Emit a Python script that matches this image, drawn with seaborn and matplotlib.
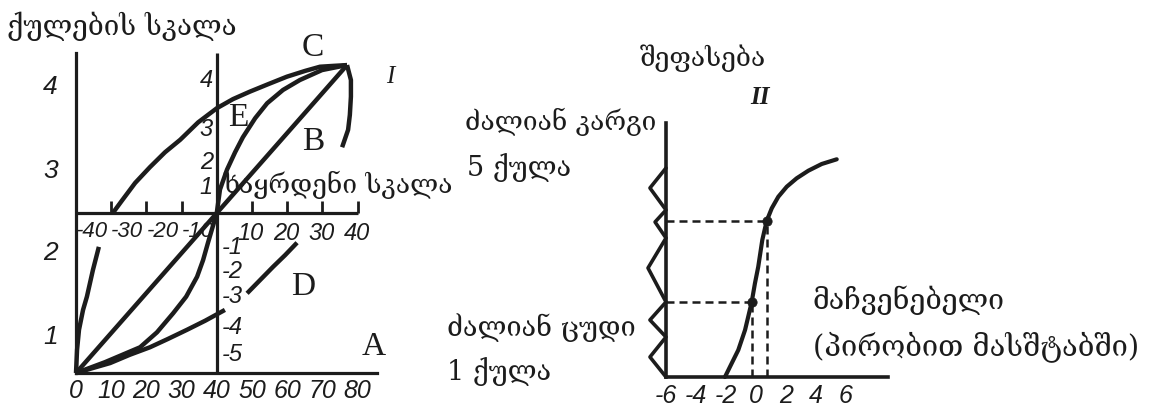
import matplotlib
matplotlib.use("Agg")
import matplotlib.pyplot as plt
import seaborn as sns
import pandas as pd

# ---------------- panel I : bottom scale (0-80) vs ball scale ----------------
bottom_ticks = [0, 10, 20, 30, 40, 50, 60, 70, 80]
bottom_labels = ["0", "10", "20", "30", "40", "50", "60", "70", "80"]
ball_ticks = [1, 1.5, 2, 3, 3.5, 4]
ball_labels = ["1", "", "2", "3", "", "4"]
ref_origin_x = 40          # reference scale zero on the bottom scale
ref_origin_ball = 2.46     # reference scale zero on the ball scale
ref_ticks = [-30, -20, -10, 10, 20, 30, 40]
ref_neg_vals = [-40, -30, -20, -10]
ref_neg_labels = ["-40", "-30", "-20", "-10"]
ref_pos_vals = [10, 20, 30, 40]
ref_pos_labels = ["10", "20", "30", "40"]
inner_up_labels = ["1", "2", "3", "4"]
inner_up_ball = [2.76, 3.07, 3.46, 4.06]
inner_down_labels = ["-1", "-2", "-3", "-4", "-5"]
inner_down_ball = [2.04, 1.75, 1.45, 1.08, 0.75]
axis_bottom_ball = 0.53
axis_top_ball = 4.39
axis_right_x = 85.5
ref_axis_right = 80

# curve E-C (upper arc)
arc_x = [10.5, 13.1, 16.8, 21.0, 25.3, 29.6, 34.7, 40.0, 44.6, 49.4, 54.6, 59.9, 65.1, 69.3, 73.0, 77.0]
arc_y = [2.46, 2.61, 2.82, 3.01, 3.19, 3.34, 3.55, 3.72, 3.83, 3.92, 4.01, 4.10, 4.17, 4.22, 4.23, 4.24]
# S-shaped curve through the reference origin
s_x = [0, 8.2, 18.2, 23.0, 27.6, 31.3, 34.4, 36.1, 37.5, 40.0, 40.9, 42.9, 45.2, 47.4, 50.9, 54.3, 58.8, 63.6, 69.9, 77.0]
s_y = [0.53, 0.66, 0.84, 1.02, 1.25, 1.45, 1.69, 1.89, 2.10, 2.46, 2.74, 2.98, 3.19, 3.37, 3.60, 3.78, 3.94, 4.06, 4.18, 4.24]
# straight line B
line_x = [0, 77.0]
line_y = [0.53, 4.24]
# lower flat curve
low_x = [0, 4.8, 9.7, 15.3, 21.0, 26.1, 31.5, 36.7, 42.3]
low_y = [0.53, 0.59, 0.65, 0.75, 0.84, 0.94, 1.05, 1.16, 1.29]
# steep curve near the left axis
steep_x = [0, 0.3, 0.85, 2.0, 3.1, 4.8, 6.5]
steep_y = [0.53, 0.81, 1.05, 1.29, 1.45, 1.77, 2.05]
# curve D
d_x = [48.6, 52.3, 56.0, 59.4, 62.8]
d_y = [1.49, 1.65, 1.81, 1.95, 2.10]
# curve falling from C
drop_x = [77.0, 78.1, 78.1, 77.8, 77.3, 75.6]
drop_y = [4.24, 4.06, 3.86, 3.64, 3.46, 3.25]

# ---------------- panel II : indicator vs grade ----------------
ind_ticks = [-6, -4, -2, 0, 2, 4, 6]
ind_labels = ["-6", "-4", "-2", "0", "2", "4", "6"]
grade_ticks = [4.0, 7.5, 13.9, 16.7, 20.9]
zig_x = [-6, -7.07, -6, -6.73, -6, -7.2, -6, -7.07, -6, -7.07, -6]
zig_y = [20.9, 18.9, 16.7, 15.5, 13.9, 10.9, 7.5, 5.7, 4.0, 2.0, 0]
sig_x = [-2.07, -1.62, -1.18, -0.73, -0.29, -0.07, 0.15, 0.42, 0.71, 1.05, 1.49, 2.05, 2.71, 3.49, 4.38, 5.38]
sig_y = [0.0, 1.37, 2.7, 4.7, 7.47, 9.37, 11.03, 13.7, 15.6, 16.87, 18.03, 19.03, 19.87, 20.63, 21.3, 21.77]
mark_x = [-0.29, 0.71]
mark_y = [7.47, 15.6]
ind_axis_left = -6
ind_axis_right = 8.8
grade_axis_top = 25.4

# ---------------- figure ----------------
W, H = 1149, 412
sns.set_theme(style="white")
plt.rcParams["font.family"] = ["DejaVu Serif", "DejaVu Sans"]
INK = "#1c1c1c"
GEO = ["DejaVu Serif", "DejaVu Sans"]
NUM = ["Liberation Sans", "DejaVu Sans"]
LAT = ["Liberation Serif", "DejaVu Serif"]
NS = 18

fig = plt.figure(figsize=(W / 100, H / 100), dpi=100)
fig.patch.set_facecolor("white")

def fx(px):
    return px / W

def fy(py):
    return 1 - py / H

# ---- panel I axes
X0, SX, Y0, SY = 76, 3.52, 417, 83
ax1 = fig.add_axes([0, 0, 460 / W, 1])
ax1.set_xlim((0 - X0) / SX, (460 - X0) / SX)
ax1.set_ylim((Y0 - H) / SY, Y0 / SY)
ax1.patch.set_visible(False)

for xs, ys in [(arc_x, arc_y), (s_x, s_y), (line_x, line_y), (low_x, low_y),
               (steep_x, steep_y), (d_x, d_y), (drop_x, drop_y)]:
    sns.lineplot(data=pd.DataFrame({"x": xs, "y": ys}), x="x", y="y", ax=ax1,
                 sort=False, estimator=None, color=INK, lw=3.2,
                 solid_capstyle="butt")

for s in ["top", "right"]:
    ax1.spines[s].set_visible(False)
ax1.spines["left"].set_position(("data", 0))
ax1.spines["left"].set_bounds(axis_bottom_ball, axis_top_ball)
ax1.spines["bottom"].set_position(("data", axis_bottom_ball))
ax1.spines["bottom"].set_bounds(0, axis_right_x)
for s in ["left", "bottom"]:
    ax1.spines[s].set_linewidth(2.3)
    ax1.spines[s].set_color(INK)

ax1.set_xticks(bottom_ticks)
ax1.set_xticklabels(bottom_labels, fontfamily=NUM, fontstyle="italic", fontsize=NS, color=INK)
ax1.set_yticks(ball_ticks)
ax1.set_yticklabels(ball_labels, fontfamily=NUM, fontstyle="italic", fontsize=NS + 1, color=INK)
ax1.tick_params(axis="x", direction="in", length=9, width=2, pad=4, colors=INK)
ax1.tick_params(axis="y", direction="in", length=10, width=2, pad=13, colors=INK)
ax1.set_xlabel("")
ax1.set_ylabel("")

ax1.vlines(ref_origin_x, axis_bottom_ball, axis_top_ball, color=INK, lw=2.3)
ax1.hlines(ref_origin_ball, 0, ref_axis_right, color=INK, lw=2.3)
ax1.vlines([ref_origin_x + r for r in ref_ticks], ref_origin_ball, ref_origin_ball + 0.145,
           color=INK, lw=2)
for v, t in zip(ref_neg_vals, ref_neg_labels):
    ax1.text(ref_origin_x + v + 4.6, ref_origin_ball - 0.22, t, ha="center", va="center",
             fontfamily=NUM, fontstyle="italic", fontsize=NS - 2, color=INK)
for v, t in zip(ref_pos_vals, ref_pos_labels):
    ax1.text(ref_origin_x + v - 0.3, ref_origin_ball - 0.25, t, ha="center", va="center",
             fontfamily=NUM, fontstyle="italic", fontsize=NS - 1, color=INK)
for b, t in zip(inner_up_ball, inner_up_labels):
    ax1.text(ref_origin_x - 3, b, t, ha="center", va="center",
             fontfamily=NUM, fontstyle="italic", fontsize=NS - 1, color=INK)
for b, t in zip(inner_down_ball, inner_down_labels):
    ax1.text(ref_origin_x + 4.4, b, t, ha="center", va="center",
             fontfamily=NUM, fontstyle="italic", fontsize=NS - 1, color=INK)

# ---- panel II axes
PX0, PSX, PY0, PSY = 756, 15, 377, 10
ax2 = fig.add_axes([600 / W, 0, (W - 600) / W, 1])
ax2.set_xlim((600 - PX0) / PSX, (W - PX0) / PSX)
ax2.set_ylim((PY0 - H) / PSY, PY0 / PSY)
ax2.patch.set_visible(False)

sns.lineplot(data=pd.DataFrame({"x": zig_x, "y": zig_y}), x="x", y="y", ax=ax2,
             sort=False, estimator=None, color=INK, lw=2.6)
sns.lineplot(data=pd.DataFrame({"x": sig_x, "y": sig_y}), x="x", y="y", ax=ax2,
             sort=False, estimator=None, color=INK, lw=3.0)
dash = (0, (3.2, 2.0))
for mx, my in zip(mark_x, mark_y):
    ax2.hlines(my, ind_axis_left, mx, color=INK, lw=1.8, linestyles=[dash])
    ax2.vlines(mx, 0, my, color=INK, lw=1.8, linestyles=[dash])
sns.scatterplot(x=mark_x, y=mark_y, ax=ax2, color=INK, s=45, edgecolor=INK, zorder=5)

for s in ["top", "right"]:
    ax2.spines[s].set_visible(False)
ax2.spines["left"].set_position(("data", ind_axis_left))
ax2.spines["left"].set_bounds(0, grade_axis_top)
ax2.spines["bottom"].set_position(("data", 0))
ax2.spines["bottom"].set_bounds(ind_axis_left, ind_axis_right)
for s in ["left", "bottom"]:
    ax2.spines[s].set_linewidth(2.6)
    ax2.spines[s].set_color(INK)
ax2.set_xticks(ind_ticks)
ax2.set_xticklabels(ind_labels, fontfamily=NUM, fontstyle="italic", fontsize=NS, color=INK)
ax2.set_yticks(grade_ticks)
ax2.set_yticklabels([""] * len(grade_ticks))
ax2.tick_params(axis="x", direction="in", length=10, width=2, pad=5, colors=INK)
ax2.tick_params(axis="y", direction="out", length=11, width=2, colors=INK)
ax2.set_xlabel("")
ax2.set_ylabel("")

# ---- texts
def geo(px, py, s, size=20):
    fig.text(fx(px), fy(py), s, ha="left", va="center", fontfamily=GEO, fontsize=size, color=INK)

def lat(px, py, s, size=24, style="normal", weight="normal"):
    fig.text(fx(px), fy(py), s, ha="center", va="center", fontfamily=LAT, fontsize=size,
             fontstyle=style, fontweight=weight, color=INK)

geo(7, 26, "ქულების სკალა", 20)
geo(223, 185, "ხაყრდენი სკალა", 19)
lat(313, 48, "C")
lat(238, 118, "E")
lat(313, 142, "B")
lat(303, 287, "D")
lat(374, 347, "A")
lat(390, 77, "I", size=18, style="italic")

geo(640, 58, "შეფასება", 19)
lat(760, 98, "II", size=18, style="italic", weight="bold")
geo(465, 122, "ძალიან კარგი", 19)
geo(467, 168, "5 ქულა", 19.5)
geo(447, 328, "ძალიან ცუდი", 19.5)
geo(447, 372, "1 ქულა", 19.5)
geo(813, 300, "მაჩვენებელი", 20.5)
geo(813, 347, "(პირობით მასშტაბში)", 21)

fig.savefig("out.png", dpi=100, facecolor="white")
